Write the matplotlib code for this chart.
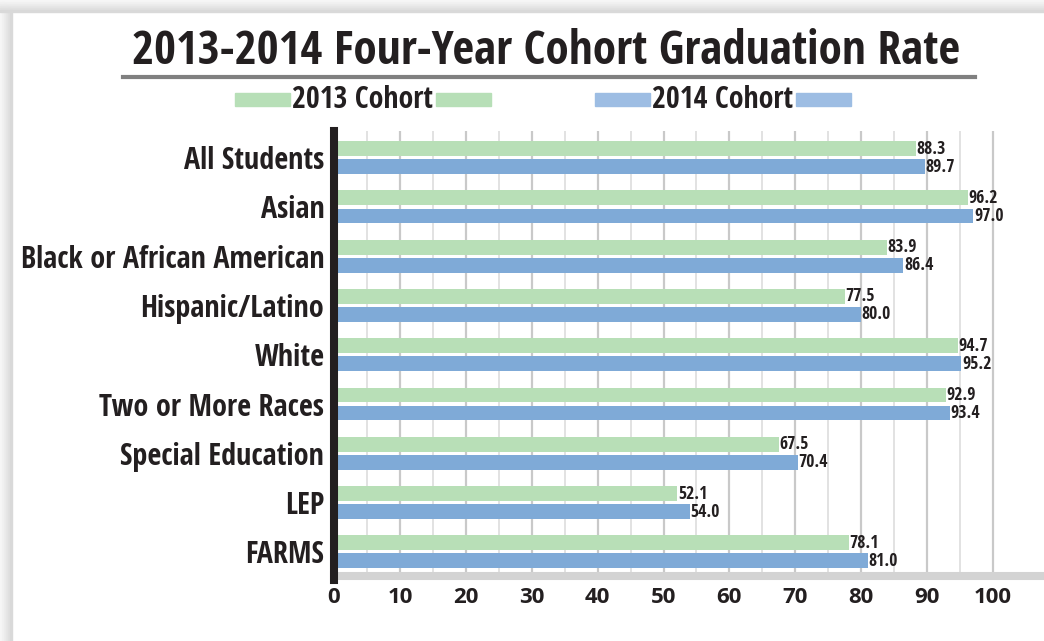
import matplotlib.pyplot as plt
from matplotlib.patches import Rectangle
from matplotlib import font_manager

# data
categories = ["All Students", "Asian", "Black or African American", "Hispanic/Latino",
              "White", "Two or More Races", "Special Education", "LEP", "FARMS"]
cohort_2013 = [88.3, 96.2, 83.9, 77.5, 94.7, 92.9, 67.5, 52.1, 78.1]
cohort_2014 = [89.7, 97.0, 86.4, 80.0, 95.2, 93.4, 70.4, 54.0, 81.0]
series_names = ["2013 Cohort", "2014 Cohort"]
x_ticks = [0, 10, 20, 30, 40, 50, 60, 70, 80, 90, 100]

W, H = 1044, 641
GREEN, BLUE = "#b8dfb7", "#7faad7"
GREEN_LEG, BLUE_LEG = "#b7dfb7", "#9dbde3"
INK = "#231f20"

installed = {f.name for f in font_manager.fontManager.ttflist}
if "Open Sans Condensed" in installed:
    NARROW, k = ["Open Sans Condensed", "DejaVu Sans"], 1.0
else:
    NARROW, k = ["Roboto", "DejaVu Sans"], 0.86
WIDE = ["Open Sans", "DejaVu Sans"]

fig = plt.figure(figsize=(W / 100, H / 100), dpi=100)
fig.patch.set_facecolor("white")

# soft shadow around the card (top and left edges)
shades = ["#f6f6f6", "#f1f1f1", "#ececec", "#e6e6e6", "#e0e0e0", "#d9d9d9"]
for i, c in enumerate(shades):
    fig.add_artist(Rectangle((0, 1 - (2 * i + 2) / H), 1, 2 / H, transform=fig.transFigure, color=c, zorder=0))
    fig.add_artist(Rectangle(((2 * i) / W, 0), 2 / W, 1 - (2 * i) / H, transform=fig.transFigure, color=c, zorder=0))

# title + underline
fig.text(546 / W, 1 - 51 / H, "2013-2014 Four-Year Cohort Graduation Rate", ha="center", va="center",
         fontsize=34 * k, fontweight="bold", family=NARROW, color=INK)
fig.add_artist(plt.Line2D([123 / W, 975 / W], [1 - 77 / H, 1 - 77 / H], transform=fig.transFigure,
                          color="#808080", lw=3))

# hand-built legend: patch | text | patch
for name, col, cx in [(series_names[0], GREEN_LEG, 363), (series_names[1], BLUE_LEG, 723)]:
    for px in (cx - 128, cx + 73):
        fig.add_artist(Rectangle((px / W, 1 - 106 / H), 55 / W, 13 / H, transform=fig.transFigure,
                                 color=col, zorder=1))
    fig.text(cx / W, 1 - 100 / H, name, ha="center", va="center", fontsize=21.5 * k, fontweight="bold",
             family=NARROW, color=INK, zorder=2)

ax = fig.add_axes([334 / W, (H - 576) / H, 706 / W, 445 / H])
ax.set_xlim(0, 706 / 6.59)
ax.set_ylim(8.49, -0.54)

y = list(range(len(categories)))
h = 0.30
off = 0.183
ax.barh([v - off for v in y], cohort_2013, height=h, color=GREEN, zorder=3)
ax.barh([v + off for v in y], cohort_2014, height=h, color=BLUE, zorder=3)

for i in y:
    ax.text(cohort_2013[i] + 0.1, i - off, f"{cohort_2013[i]:.1f}", va="center", ha="left",
            fontsize=12.7 * k, fontweight="bold", family=NARROW, color=INK, zorder=4)
    ax.text(cohort_2014[i] + 0.1, i + off, f"{cohort_2014[i]:.1f}", va="center", ha="left",
            fontsize=12.7 * k, fontweight="bold", family=NARROW, color=INK, zorder=4)

# gridlines every 5, heavier on the tens
for g in range(5, 101, 5):
    if g % 10 == 0:
        ax.axvline(g, color="#c9c9c9", lw=1.6, zorder=1)
    else:
        ax.axvline(g, color="#dadada", lw=1.1, zorder=1)

for s in ["top", "right", "left"]:
    ax.spines[s].set_visible(False)
ax.spines["bottom"].set_color("#d3d3d3")
ax.spines["bottom"].set_linewidth(5.8)
ax.spines["bottom"].set_zorder(2)
ax.axvline(0, ymin=-0.009, ymax=1, color=INK, lw=5.8, clip_on=False, zorder=5)

ax.set_yticks(y)
ax.set_yticklabels(categories, fontsize=21.7 * k, fontweight="bold", family=NARROW, color=INK)
ax.set_xticks(x_ticks)
ax.set_xticklabels([str(t) for t in x_ticks], fontsize=16, fontweight="bold", family=WIDE, color=INK)
ax.tick_params(axis="both", length=0)
ax.tick_params(axis="y", pad=7)
ax.tick_params(axis="x", pad=8)
ax.set_facecolor("white")

fig.savefig("out.png", dpi=100)
